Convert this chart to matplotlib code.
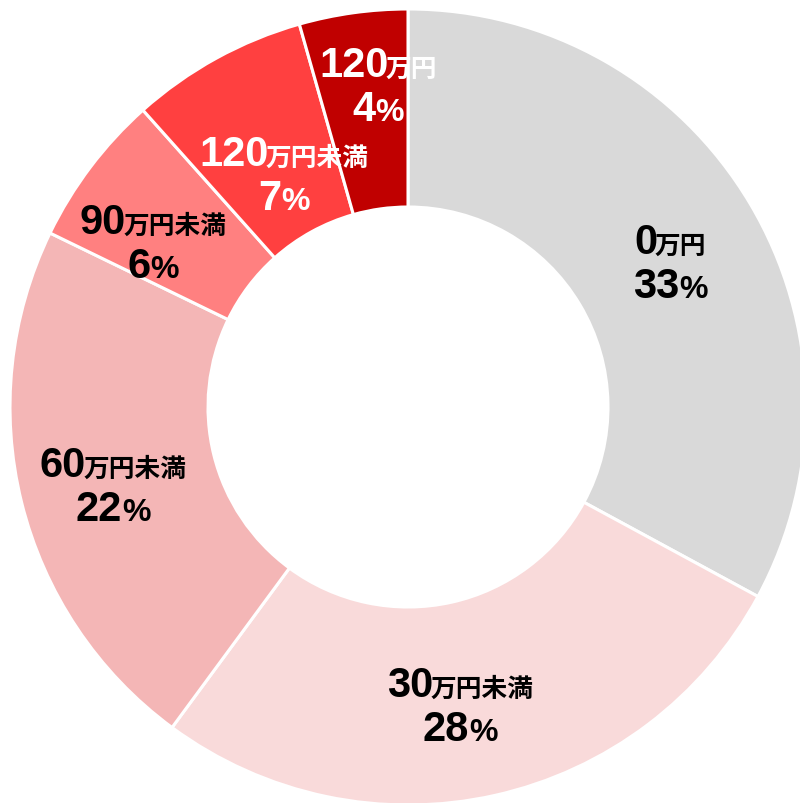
import re
import matplotlib
matplotlib.use("Agg")
import matplotlib.pyplot as plt
from matplotlib.offsetbox import TextArea, HPacker, VPacker, AnnotationBbox

categories = ['0万円', '30万円未満', '60万円未満', '90万円未満', '120万円未満', '120万円']
values = [32.9, 27.2, 22.1, 6.2, 7.2, 4.4]
pct_labels = ['33', '28', '22', '6', '7', '4']
colors = ['#D9D9D9', '#F9DADA', '#F4B6B6', '#FF8080', '#FF4040', '#C00000']
text_colors = ['black', 'black', 'black', 'black', 'white', 'white']
# label anchor positions (data units, donut centre at 0,0)
label_pos = [(262, 143), (52, -300), (-295, -80), (-255, 163), (-124, 231), (-30, 320)]

fig = plt.figure(figsize=(8.0, 8.04), dpi=100)
ax = fig.add_axes([0, 0, 1, 1])

R = 398
ax.pie(values, colors=colors, startangle=90, counterclock=False, radius=R,
       wedgeprops=dict(width=R - 200, edgecolor='white', linewidth=2.2),
       center=(0, 0), frame=True)
ax.set_xlim(-408, 392)
ax.set_ylim(-396, 408)
ax.set_aspect('equal')
ax.axis('off')

big = dict(fontsize=30, fontweight='bold', family=['Liberation Sans', 'Noto Sans CJK JP'])
mid = dict(fontsize=23, fontweight='bold', family=['Liberation Sans', 'Noto Sans CJK JP'])
small = dict(fontsize=18.5, fontweight='bold', family=['Noto Sans CJK JP', 'DejaVu Sans'])

for cat, pct, tc, pos in zip(categories, pct_labels, text_colors, label_pos):
    m = re.match(r'(\d+)(.*)', cat)
    num, unit = m.group(1), m.group(2)
    l1 = HPacker(children=[TextArea(num, textprops=dict(color=tc, **big)),
                           TextArea(unit, textprops=dict(color=tc, **small))],
                 align='baseline', pad=0, sep=-2)
    l2 = HPacker(children=[TextArea(pct, textprops=dict(color=tc, **big)),
                           TextArea('%', textprops=dict(color=tc, **mid))],
                 align='baseline', pad=0, sep=0)
    box = VPacker(children=[l1, l2], align='center', pad=0, sep=3)
    ab = AnnotationBbox(box, pos, xycoords='data', frameon=False, box_alignment=(0.5, 0.5))
    ax.add_artist(ab)

fig.savefig('out.png', dpi=100)
